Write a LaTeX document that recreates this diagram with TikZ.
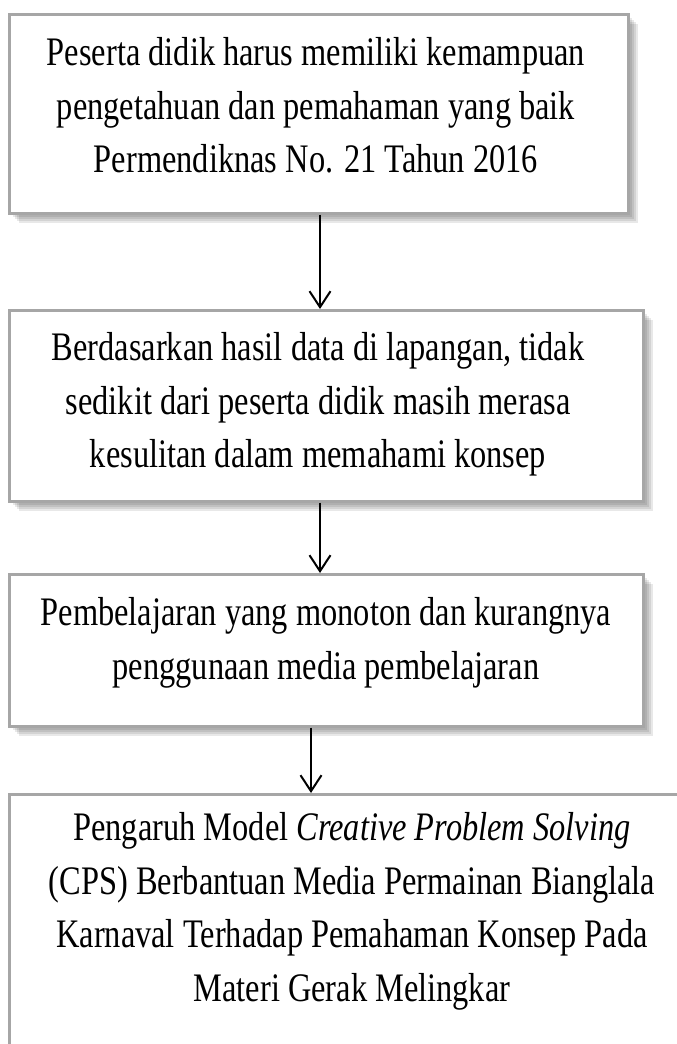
\documentclass[tikz,border=0pt]{standalone}
\usepackage{fontspec}
\setmainfont{Liberation Serif}[FakeStretch=0.8]
\usetikzlibrary{arrows.meta}
\definecolor{boxgray}{HTML}{A6A6A6}
\begin{document}
\begin{tikzpicture}[x=1pt,y=-1pt,
  shd/.style={preaction={fill=black,opacity=0.09,transform canvas={shift={(#1,-#1)}}}},
  box/.style={draw=boxgray, line width=2.5pt, fill=white, inner sep=0pt, anchor=north west,
    shd=2pt, shd=4pt, shd=6pt, shd=8pt, shd=10pt},
  txt/.style={align=center, inner sep=0pt, anchor=north, font=\fontsize{40.5}{53.5}\selectfont},
  arr/.style={line width=2pt, -{Straight Barb[length=16pt,width=21pt,line width=2pt]}}]
\path[use as bounding box, clip] (0,0) rectangle (677,1044);
\node[box, minimum width=619pt, minimum height=199pt] (b1) at (8,13) {};
\node[box, minimum width=634pt, minimum height=191pt] (b2) at (8,309) {};
\node[box, minimum width=634pt, minimum height=152pt] (b3) at (8,573) {};
\node[box, minimum width=700pt, minimum height=300pt] (b4) at (8,793) {};
\node[txt] (t1) at (316,28) {\strut Peserta didik harus memiliki kemampuan\\pengetahuan dan pemahaman yang baik\\Permendiknas No. 21 Tahun 2016};
\node[txt] (t2) at (318,323) {\strut Berdasarkan hasil data di lapangan, tidak\\sedikit dari peserta didik masih merasa\\kesulitan dalam memahami konsep};
\node[txt] (t3) at (326,588) {\strut Pembelajaran yang monoton dan kurangnya\\penggunaan media pembelajaran};
\node[txt] (t4) at (352,803) {\strut Pengaruh Model \textit{Creative Problem Solving}\\(CPS) Berbantuan Media Permainan Bianglala\\Karnaval Terhadap Pemahaman Konsep Pada\\Materi Gerak Melingkar};
\coordinate (ax1) at (320,0);
\coordinate (ax2) at (320,0);
\coordinate (ax3) at (311,0);
\draw[arr] (ax1 |- b1.south) -- (ax1 |- b2.north);
\draw[arr] (ax2 |- b2.south) -- (ax2 |- b3.north);
\draw[arr] (ax3 |- b3.south) -- (ax3 |- b4.north);
\end{tikzpicture}
\end{document}
